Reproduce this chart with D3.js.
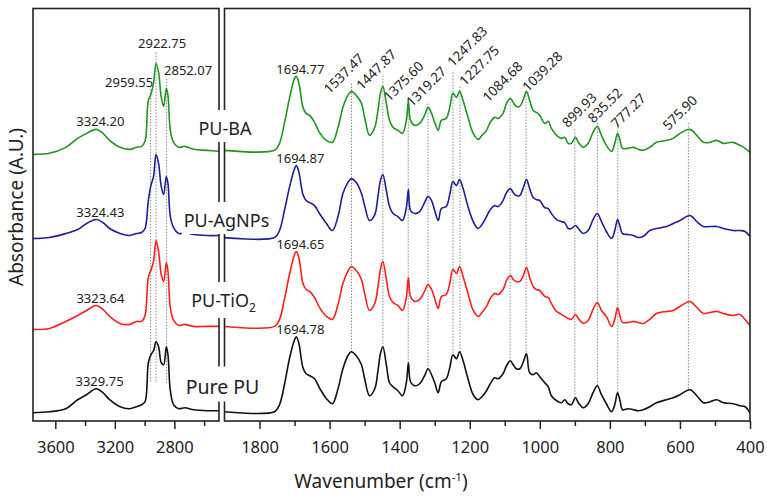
<!DOCTYPE html>
<html>
<head>
<meta charset="utf-8">
<script src="https://cdn.jsdelivr.net/npm/d3@7"></script>
<style>
  body { margin: 0; background: #fff; }
  svg { font-family: "Noto Sans", sans-serif; }
</style>
</head>
<body>
<div id="chart"></div>
<script>
const W = 767
const H = 496

// wavenumbers (cm-1) sampled in the two windows of the broken axis
const waveHigh = [3750, 3640, 3530, 3450, 3390, 3325, 3280, 3235, 3165, 3100,
  3055, 3020, 2997, 2975, 2958, 2940, 2923, 2906, 2888, 2872,
  2854, 2843, 2827, 2805, 2770, 2730, 2670, 2580, 2500]
const waveLow = [1903, 1757, 1743, 1729, 1714, 1700, 1695, 1688, 1676, 1667,
  1657, 1643, 1629, 1609, 1592, 1576, 1562, 1548, 1538, 1524,
  1509, 1500, 1486, 1471, 1462, 1455, 1448, 1438, 1429, 1419,
  1405, 1392, 1381, 1375, 1369, 1357, 1343, 1329, 1319, 1309,
  1300, 1290, 1281, 1267, 1257, 1248, 1238, 1229, 1219, 1205,
  1190, 1176, 1165, 1152, 1143, 1129, 1119, 1105, 1095, 1084,
  1076, 1067, 1057, 1048, 1038, 1029, 1019, 1010, 1000, 986,
  976, 967, 952, 938, 929, 919, 910, 898, 890, 876,
  862, 848, 836, 824, 810, 795, 786, 778, 771, 764,
  748, 733, 719, 705, 686, 667, 638, 619, 600, 571,
  552, 533, 514, 495, 476, 448, 429, 414, 400]

// absorbance (A.U.) above each spectrum's own baseline
const pureHigh = [0, 0.01, 0.04, 0.13, 0.18, 0.24, 0.20, 0.13, 0.06, 0.04,
  0.06, 0.08, 0.11, 0.50, 0.58, 0.62, 0.71, 0.66, 0.50, 0.48,
  0.66, 0.58, 0.22, 0.08, 0.04, 0.05, 0.03, 0.02, 0.02]
const tioHigh = [0, 0.01, 0.08, 0.14, 0.19, 0.24, 0.20, 0.13, 0.06, 0.05,
  0.08, 0.08, 0.14, 0.52, 0.59, 0.68, 0.89, 0.78, 0.55, 0.48,
  0.67, 0.58, 0.22, 0.09, 0.04, 0.05, 0.03, 0.03, 0.03]
const agHigh = [0, 0.01, 0.05, 0.09, 0.15, 0.19, 0.16, 0.10, 0.05, 0.03,
  0.05, 0.06, 0.10, 0.38, 0.53, 0.62, 0.84, 0.75, 0.52, 0.44,
  0.62, 0.55, 0.22, 0.11, 0.05, 0.06, 0.04, 0.03, 0.03]
const baHigh = [0, 0.01, 0.07, 0.16, 0.21, 0.25, 0.21, 0.14, 0.07, 0.05,
  0.07, 0.08, 0.13, 0.54, 0.60, 0.71, 0.91, 0.82, 0.57, 0.48,
  0.66, 0.59, 0.24, 0.12, 0.07, 0.08, 0.05, 0.04, 0.03]

const pureLow = [0.01, 0.01, 0.08, 0.28, 0.55, 0.73, 0.76, 0.70, 0.45, 0.39,
  0.37, 0.34, 0.25, 0.14, 0.09, 0.24, 0.44, 0.57, 0.61, 0.57,
  0.48, 0.34, 0.17, 0.24, 0.42, 0.59, 0.66, 0.48, 0.30, 0.26,
  0.22, 0.17, 0.30, 0.50, 0.31, 0.27, 0.29, 0.37, 0.44, 0.38,
  0.30, 0.20, 0.31, 0.34, 0.45, 0.58, 0.54, 0.61, 0.52, 0.34,
  0.18, 0.13, 0.16, 0.22, 0.28, 0.35, 0.34, 0.39, 0.47, 0.52,
  0.48, 0.44, 0.44, 0.50, 0.59, 0.40, 0.38, 0.40, 0.36, 0.30,
  0.26, 0.17, 0.12, 0.10, 0.13, 0.09, 0.08, 0.15, 0.10, 0.05,
  0.09, 0.20, 0.27, 0.18, 0.09, 0.01, 0.08, 0.20, 0.12, 0.03,
  0.04, 0.03, 0.02, 0.03, 0.06, 0.10, 0.13, 0.15, 0.18, 0.23,
  0.17, 0.10, 0.11, 0.13, 0.10, 0.09, 0.07, 0.06, 0.00]
const tioLow = [0.03, 0.03, 0.10, 0.30, 0.56, 0.75, 0.78, 0.72, 0.46, 0.40,
  0.38, 0.32, 0.22, 0.13, 0.10, 0.25, 0.46, 0.58, 0.63, 0.59,
  0.50, 0.36, 0.19, 0.26, 0.43, 0.60, 0.68, 0.50, 0.33, 0.27,
  0.24, 0.19, 0.32, 0.52, 0.33, 0.28, 0.30, 0.38, 0.45, 0.40,
  0.31, 0.21, 0.33, 0.35, 0.46, 0.60, 0.56, 0.63, 0.53, 0.36,
  0.19, 0.13, 0.17, 0.23, 0.30, 0.36, 0.35, 0.40, 0.49, 0.54,
  0.50, 0.48, 0.48, 0.53, 0.62, 0.52, 0.43, 0.40, 0.39, 0.33,
  0.32, 0.26, 0.18, 0.15, 0.13, 0.11, 0.10, 0.15, 0.11, 0.06,
  0.09, 0.20, 0.27, 0.19, 0.13, 0.03, 0.10, 0.22, 0.13, 0.07,
  0.07, 0.08, 0.07, 0.06, 0.10, 0.16, 0.18, 0.19, 0.23, 0.28,
  0.22, 0.16, 0.17, 0.18, 0.16, 0.14, 0.15, 0.10, 0.04]
const agLow = [0.01, 0.01, 0.08, 0.28, 0.52, 0.70, 0.73, 0.67, 0.44, 0.38,
  0.36, 0.33, 0.25, 0.15, 0.08, 0.22, 0.45, 0.56, 0.60, 0.56,
  0.45, 0.33, 0.18, 0.24, 0.42, 0.58, 0.64, 0.48, 0.32, 0.25,
  0.22, 0.18, 0.31, 0.49, 0.28, 0.25, 0.27, 0.36, 0.42, 0.38,
  0.28, 0.18, 0.30, 0.32, 0.44, 0.57, 0.53, 0.59, 0.50, 0.32,
  0.17, 0.10, 0.14, 0.22, 0.28, 0.33, 0.32, 0.38, 0.46, 0.50,
  0.46, 0.43, 0.43, 0.50, 0.59, 0.50, 0.41, 0.39, 0.38, 0.31,
  0.30, 0.25, 0.19, 0.17, 0.16, 0.10, 0.10, 0.13, 0.10, 0.05,
  0.08, 0.19, 0.25, 0.17, 0.07, 0.00, 0.08, 0.19, 0.12, 0.05,
  0.04, 0.03, 0.01, 0.02, 0.08, 0.10, 0.12, 0.15, 0.18, 0.23,
  0.17, 0.12, 0.12, 0.12, 0.10, 0.08, 0.08, 0.07, 0.02]
const baLow = [0.04, 0.04, 0.11, 0.31, 0.57, 0.76, 0.78, 0.72, 0.47, 0.41,
  0.39, 0.32, 0.22, 0.14, 0.12, 0.27, 0.47, 0.59, 0.63, 0.59,
  0.51, 0.37, 0.19, 0.27, 0.44, 0.61, 0.68, 0.51, 0.34, 0.27,
  0.24, 0.21, 0.34, 0.53, 0.34, 0.29, 0.31, 0.39, 0.47, 0.41,
  0.32, 0.24, 0.34, 0.36, 0.47, 0.61, 0.57, 0.63, 0.54, 0.37,
  0.21, 0.15, 0.19, 0.24, 0.31, 0.37, 0.36, 0.41, 0.51, 0.56,
  0.52, 0.48, 0.48, 0.54, 0.63, 0.54, 0.44, 0.42, 0.39, 0.31,
  0.33, 0.26, 0.19, 0.16, 0.17, 0.11, 0.11, 0.17, 0.12, 0.07,
  0.11, 0.22, 0.28, 0.19, 0.09, 0.03, 0.11, 0.21, 0.14, 0.06,
  0.06, 0.07, 0.05, 0.04, 0.07, 0.12, 0.14, 0.16, 0.21, 0.25,
  0.19, 0.12, 0.12, 0.14, 0.11, 0.12, 0.09, 0.06, 0.02]

const seriesNames = ['Pure PU', 'PU-TiO2', 'PU-AgNPs', 'PU-BA']
const seriesHigh = [pureHigh, tioHigh, agHigh, baHigh]
const seriesLow = [pureLow, tioLow, agLow, baLow]
const seriesColors = ['#111111', '#ff1e1e', '#1e1e98', '#1f961f']
const seriesOffsets = [0, 0.834, 1.744, 2.587] // vertical stacking, A.U.

// O-H and C=O band positions labelled on every spectrum
const ohBands = [3329.75, 3323.64, 3324.43, 3324.20]
const coBands = [1694.78, 1694.65, 1694.87, 1694.77]

// peaks marked with dotted guides through all spectra
const guideWaves = [2959.55, 2922.75, 2852.07, 1537.47, 1447.87, 1375.60, 1319.27,
  1247.83, 1227.75, 1084.68, 1039.28, 899.93, 835.52, 777.27, 575.90]

const ticksHighMajor = [3600, 3200, 2800]
const ticksHighMinor = [3400, 3000, 2600]
const ticksLowMajor = [1800, 1600, 1400, 1200, 1000, 800, 600, 400]
const ticksLowMinor = [1700, 1500, 1300, 1100, 900, 700, 500]

// layout ---------------------------------------------------------------
const plotTop = 8.5
const plotBottom = 421
const panelHigh = [33, 219]
const panelLow = [224.5, 750]

// per guide: [lift of dotted line above PU-BA curve, label dx, label dy]
const guideNudge = [[6, -21.5, -2], [11, 6, -5], [11, 21.5, -4],
  [8, -22, 11], [11, -21, 15], [6, -19, 5], [4, -16, 4], [21, 0, -5], [6, 5, 0],
  [0, -22, 4], [0, 2, 0], [9, -7, -1], [4, -4, 1], [10, -1, 5], [7, -20, 8]]
// series name boxes: [centre x, baseline y, font size]
const nameLayout = [[222.5, 393.5, 19.5], [223.5, 307, 18], [226.5, 227, 18], [225, 135, 18]]

const svg = d3.select('#chart').append('svg').attr('width', W).attr('height', H)

const y = d3.scaleLinear().domain([-0.083, 4.047]).range([plotBottom, plotTop])
const xHigh = d3.scaleLinear().domain([3750, 2500]).range(panelHigh)
const xLow = d3.scaleLinear().domain([1900, 400]).range(panelLow)

function valueAt(waves, vals, w) {
  for (let i = 0; i < waves.length - 1; i++) {
    const a = waves[i], b = waves[i + 1]
    if (w <= a && w >= b) {
      const t = (a - w) / (a - b)
      return vals[i] + t * (vals[i + 1] - vals[i])
    }
  }
  return vals[vals.length - 1]
}

const defs = svg.append('defs')
;[['clipHigh', panelHigh], ['clipLow', panelLow]].forEach(([id, r]) => {
  defs.append('clipPath').attr('id', id)
    .append('rect').attr('x', r[0]).attr('y', plotTop)
    .attr('width', r[1] - r[0]).attr('height', plotBottom - plotTop)
})

// dotted guides
const guideG = svg.append('g')
const labelG = svg.append('g').attr('font-size', 13).attr('fill', '#222')
guideWaves.forEach((w, i) => {
  const isHigh = w > 2000
  const x = isHigh ? xHigh : xLow
  const waves = isHigh ? waveHigh : waveLow
  const topVal = valueAt(waves, isHigh ? baHigh : baLow, w) + seriesOffsets[3]
  const botVal = isHigh ? 0.30 : valueAt(waves, pureLow, w)
  const [lift, dx, dy] = guideNudge[i]
  const x0 = x(w)
  const y0 = y(topVal) - lift
  guideG.append('line')
    .attr('x1', x0).attr('x2', x0)
    .attr('y1', y0).attr('y2', y(botVal))
    .attr('stroke', '#8a8a8a').attr('stroke-width', 1)
    .attr('stroke-dasharray', '1.5,1.5')
  const label = w.toFixed(2)
  if (isHigh) {
    labelG.append('text').attr('x', x0 + dx).attr('y', y0 + dy)
      .attr('text-anchor', 'middle').text(label)
  } else {
    labelG.append('text')
      .attr('transform', `translate(${x0 + dx},${y0 + dy}) rotate(-45)`)
      .attr('font-size', 13.5)
      .text(label)
  }
})

// spectra
seriesNames.forEach((name, i) => {
  const off = seriesOffsets[i]
  ;[[waveHigh, seriesHigh[i], xHigh, 'clipHigh'], [waveLow, seriesLow[i], xLow, 'clipLow']]
    .forEach(([waves, vals, x, clip]) => {
      const line = d3.line()
        .x((d) => x(d[0]))
        .y((d) => y(d[1] + off))
        .curve(d3.curveCatmullRom.alpha(0.5))
      svg.append('path')
        .datum(waves.map((w, k) => [w, vals[k]]))
        .attr('clip-path', `url(#${clip})`)
        .attr('fill', 'none')
        .attr('stroke', seriesColors[i])
        .attr('stroke-width', 1.6)
        .attr('d', line)
    })

  // band labels above the O-H and C=O peaks
  ;[[ohBands[i], waveHigh, seriesHigh[i], xHigh], [coBands[i], waveLow, seriesLow[i], xLow]]
    .forEach(([w, waves, vals, x]) => {
      labelG.append('text')
        .attr('x', x(w) + 4)
        .attr('y', y(valueAt(waves, vals, w) + off) - 3)
        .attr('text-anchor', 'middle')
        .text(w.toFixed(2))
    })
})

// panel frames (their inner edges form the axis break)
;[panelHigh, panelLow].forEach((r) => {
  svg.append('rect')
    .attr('x', r[0]).attr('y', plotTop)
    .attr('width', r[1] - r[0]).attr('height', plotBottom - plotTop)
    .attr('fill', 'none').attr('stroke', '#222').attr('stroke-width', 1.6)
})

// axes
function drawAxis(x, major, minor) {
  const g = svg.append('g').attr('transform', `translate(0,${plotBottom})`)
  g.call(d3.axisBottom(x).tickValues(major).tickSize(8).tickSizeOuter(0)
    .tickPadding(12).tickFormat(d3.format('d')))
  const gm = svg.append('g').attr('transform', `translate(0,${plotBottom})`)
  gm.call(d3.axisBottom(x).tickValues(minor).tickSize(5).tickSizeOuter(0).tickFormat(''))
  ;[g, gm].forEach((a) => {
    a.select('.domain').remove()
    a.selectAll('line').attr('stroke', '#222').attr('stroke-width', 1.5)
    a.selectAll('text').attr('font-family', '"Noto Sans", sans-serif')
      .attr('font-size', 16.5).attr('fill', '#222')
  })
}
drawAxis(xHigh, ticksHighMajor, ticksHighMinor)
drawAxis(xLow, ticksLowMajor, ticksLowMinor)

// series names, on white boxes over the break
seriesNames.forEach((name, i) => {
  const [cx, by, fs] = nameLayout[i]
  const g = svg.append('g')
  const t = g.append('text').attr('x', cx).attr('y', by)
    .attr('text-anchor', 'middle').attr('font-size', fs).attr('fill', '#222')
  if (name === 'PU-TiO2') {
    t.append('tspan').text('PU-TiO')
    t.append('tspan').attr('font-size', 12).attr('dy', 5).text('2')
  } else {
    t.text(name)
  }
  const bb = t.node().getBBox()
  g.insert('rect', 'text')
    .attr('x', bb.x - 2).attr('y', bb.y - 6)
    .attr('width', bb.width + 4).attr('height', bb.height + 8)
    .attr('fill', '#fff')
})

// axis titles
const xt = svg.append('text')
  .attr('x', 381).attr('y', 488)
  .attr('text-anchor', 'middle').attr('font-size', 19).attr('fill', '#222')
xt.append('tspan').text('Wavenumber (cm')
xt.append('tspan').attr('font-size', 11.5).attr('dy', -7).text('-1')
xt.append('tspan').attr('dy', 7).text(')')

svg.append('text')
  .attr('transform', 'translate(22.5,207) rotate(-90)')
  .attr('text-anchor', 'middle').attr('font-size', 19).attr('fill', '#222')
  .text('Absorbance (A.U.)')
</script>
</body>
</html>
